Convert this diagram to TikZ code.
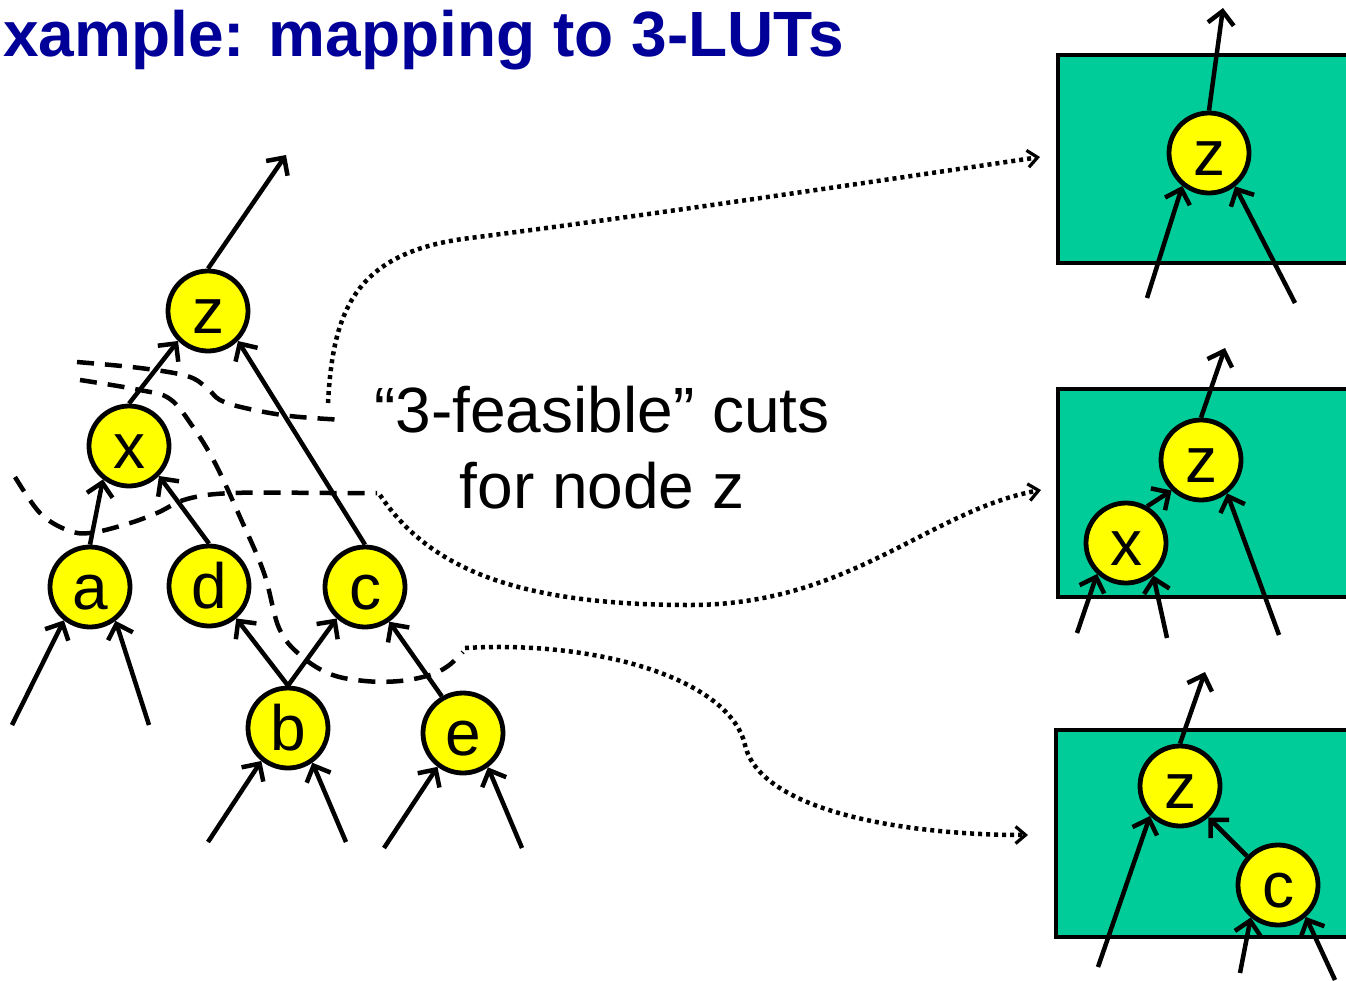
\documentclass[tikz,border=0pt]{standalone}
\usepackage{fontspec}
\setmainfont{Liberation Sans}
\usetikzlibrary{arrows.meta}
\definecolor{lutgreen}{RGB}{0,204,153}
\definecolor{gateyellow}{RGB}{255,255,0}
\definecolor{titleblue}{RGB}{0,0,153}
\begin{document}
\begin{tikzpicture}[x=1pt,y=-1pt,
  gate/.style={circle,draw=black,line width=4.8pt,fill=gateyellow,
    minimum size=80pt,inner sep=0pt,text height=44pt,text depth=0pt,
    font=\fontsize{64}{64}\selectfont},
  lutbox/.style={draw=black,line width=4.5pt,fill=lutgreen},
  wire/.style={line width=4.5pt,-{Straight Barb[length=13pt,width=26pt]}},
  cutline/.style={line width=4.5pt,dash pattern=on 17pt off 11pt},
  maplink/.style={line width=4.5pt,dash pattern=on 4pt off 4pt,
    -{Straight Barb[length=10pt,width=17pt,line width=3.2pt]}},
  bigtext/.style={font=\fontsize{64}{64}\selectfont,inner sep=0pt}]

\clip (0,0) rectangle (1346,980);
\useasboundingbox (0,0) rectangle (1346,980);

% title
\node[anchor=base west,inner sep=0pt,text=titleblue,
  font=\fontsize{64}{64}\selectfont\bfseries] (title) at (3,56)
  {xample: mapping to 3-LUTs};

% LUT boxes on the right
\draw[lutbox] (1058,55) rectangle (1370,263);
\draw[lutbox] (1058,389) rectangle (1370,597);
\draw[lutbox] (1056,730) rectangle (1370,937);

% the network
\node[gate] (z) at (208,311) {z};
\node[gate] (x) at (129,446) {x};
\node[gate] (a) at (90,587) {a};
\node[gate] (d) at (209,586) {d};
\node[gate] (c) at (365,587) {c};
\node[gate] (b) at (288,728) {b};
\node[gate] (e) at (463,733) {e};

\coordinate (zout) at (286,155);
\coordinate (ain1) at (12,725);
\coordinate (ain2) at (149,725);
\coordinate (bin1) at (208,842);
\coordinate (bin2) at (346,842);
\coordinate (ein1) at (384,848);
\coordinate (ein2) at (522,848);

\draw[wire] (z.north) -- (zout);
\draw[wire] (x.north) -- (z.225);
\draw[wire] (c.north) -- (z.-45);
\draw[wire] (a.north) -- (x.232);
\draw[wire] (d.north) -- (x.-45);
\draw[wire] (b.north) -- (d.-50);
\draw[wire] (b.north) -- (c.-132);
\draw[wire] (e.120) -- (c.-55);
\draw[wire] (ain1) -- (a.232);
\draw[wire] (ain2) -- (a.-53);
\draw[wire] (bin1) -- (b.231);
\draw[wire] (bin2) -- (b.-55);
\draw[wire] (ein1) -- (e.233);
\draw[wire] (ein2) -- (e.-54);

% cuts
\draw[cutline] plot[smooth,tension=0.6] coordinates
  {(77,362) (140,368) (187,376) (207,388) (220,400) (245,408) (290,416) (345,420)};
\draw[cutline] plot[smooth,tension=0.6] coordinates
  {(80,380) (140,390) (170,399) (193,427) (215,463) (240,517) (264,573)
   (279,628) (300,655) (330,674) (365,681) (400,681) (430,675) (448,666) (463,652)};
\draw[cutline] plot[smooth,tension=0.6] coordinates
  {(15,477) (40,513) (67,530) (90,533) (127,524) (157,513) (187,499) (233,493) (333,493) (377,493)};

\node[bigtext,anchor=base] (lbl1) at (602,432) {“3-feasible” cuts};
\node[bigtext,anchor=base] (lbl2) at (602,508) {for node z};

% links from the cuts to their LUTs
\coordinate (cut1end) at (328,403);
\coordinate (cut2end) at (465,648);
\coordinate (cut3end) at (380,495);
\coordinate (lut1in) at (1040,157);
\coordinate (lut2in) at (1041,490);
\coordinate (lut3in) at (1028,835);

\draw[maplink] (cut1end) .. controls (333,310) and (355,252) .. (470,238)
  .. controls (650,215) and (850,185) .. (lut1in);
\draw[maplink] (cut3end) .. controls (430,570) and (520,605) .. (690,605)
  .. controls (850,605) and (930,510) .. (lut2in);
\draw[maplink] (cut2end) .. controls (600,640) and (730,680) .. (745,745)
  .. controls (760,810) and (900,835) .. (lut3in);

% LUT 1: z alone
\node[gate] (z1) at (1209,153) {z};
\coordinate (z1out) at (1223,8);
\coordinate (z1in1) at (1147,298);
\coordinate (z1in2) at (1295,303);
\draw[wire] (z1.north) -- (z1out);
\draw[wire] (z1in1) -- (z1.231);
\draw[wire] (z1in2) -- (z1.-52);

% LUT 2: z with x
\node[gate] (z2) at (1201,460) {z};
\node[gate] (x2) at (1126,543) {x};
\coordinate (z2out) at (1225,348);
\coordinate (x2in1) at (1077,633);
\coordinate (x2in2) at (1167,638);
\coordinate (z2in) at (1279,635);
\draw[wire] (z2.north) -- (z2out);
\draw[wire] (x2.60) -- (z2.226);
\draw[wire] (x2in1) -- (x2.227);
\draw[wire] (x2in2) -- (x2.-50);
\draw[wire] (z2in) -- (z2.-52);

% LUT 3: z with c
\node[gate] (z3) at (1180,786) {z};
\node[gate] (c3) at (1278,885) {c};
\coordinate (z3out) at (1205,672);
\coordinate (z3in) at (1098,967);
\coordinate (c3in1) at (1240,973);
\coordinate (c3in2) at (1335,980);
\draw[wire] (z3.north) -- (z3out);
\draw[wire] (c3.137) -- (z3.-48);
\draw[wire] (z3in) -- (z3.225);
\draw[wire] (c3in1) -- (c3.230);
\draw[wire] (c3in2) -- (c3.-49);
\end{tikzpicture}
\end{document}
